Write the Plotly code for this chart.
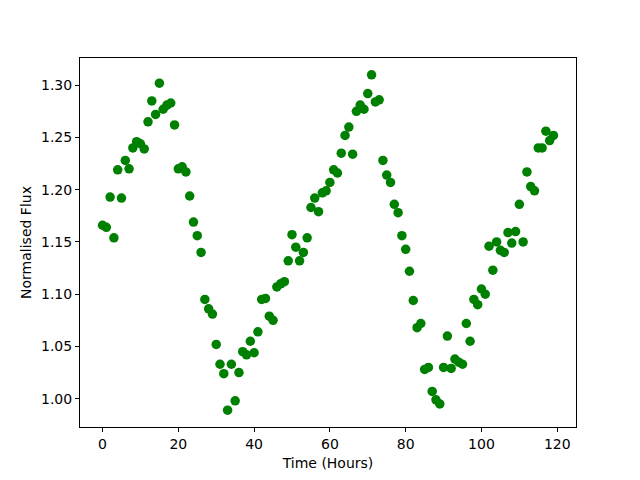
import plotly.graph_objects as go

hours = list(range(120))
flux = [
    1.166, 1.164, 1.193, 1.154, 1.219, 1.192, 1.228, 1.220, 1.240, 1.246,
    1.244, 1.239, 1.265, 1.285, 1.272, 1.302, 1.277, 1.281, 1.283, 1.262,
    1.220, 1.222, 1.217, 1.194, 1.169, 1.156, 1.140, 1.095, 1.086, 1.081,
    1.052, 1.033, 1.024, 0.989, 1.033, 0.998, 1.025, 1.045, 1.042, 1.055,
    1.044, 1.064, 1.095, 1.096, 1.079, 1.075, 1.107, 1.110, 1.112, 1.132,
    1.157, 1.145, 1.132, 1.140, 1.154, 1.183, 1.192, 1.179, 1.197, 1.199,
    1.207, 1.219, 1.216, 1.235, 1.252, 1.260, 1.234, 1.275, 1.281, 1.277,
    1.292, 1.310, 1.284, 1.286, 1.228, 1.214, 1.207, 1.186, 1.178, 1.156,
    1.143, 1.122, 1.094, 1.068, 1.072, 1.028, 1.030, 1.007, 0.999, 0.995,
    1.030, 1.060, 1.029, 1.038, 1.035, 1.033, 1.072, 1.055, 1.095, 1.090,
    1.105, 1.100, 1.146, 1.123, 1.150, 1.142, 1.140, 1.159, 1.149, 1.160,
    1.186, 1.150, 1.217, 1.203, 1.199, 1.240, 1.240, 1.256, 1.247, 1.252,
]
x_ticks = [0, 20, 40, 60, 80, 100, 120]
y_ticks = [1.00, 1.05, 1.10, 1.15, 1.20, 1.25, 1.30]

fig = go.Figure(go.Scatter(
    x=hours, y=flux, mode="markers",
    marker=dict(color="#008000", size=9.5, line=dict(width=0)),
    showlegend=False,
))

xmin, xmax = min(hours), max(hours)
ymin, ymax = min(flux), max(flux)
xpad = (xmax - xmin) * 0.05
ypad = (ymax - ymin) * 0.05

axis_common = dict(
    showline=True, linecolor="black", linewidth=1, mirror=True,
    ticks="outside", ticklen=4, tickwidth=1, tickcolor="black",
    showgrid=False, zeroline=False, automargin=False,
    tickfont=dict(family="DejaVu Sans", size=14, color="black"),
)

# page body has an 8px margin, so the figure is sized/offset to compensate
fig.update_layout(
    width=632, height=472,
    margin=dict(l=72, r=64, t=50, b=53),
    paper_bgcolor="white", plot_bgcolor="white",
    font=dict(family="DejaVu Sans", size=14, color="black"),
    xaxis=dict(range=[xmin - xpad, xmax + xpad], tickvals=x_ticks,
               title=dict(text="Time (Hours)", standoff=7,
                          font=dict(family="DejaVu Sans", size=14)),
               **axis_common),
    yaxis=dict(range=[ymin - ypad, ymax + ypad], tickvals=y_ticks,
               tickformat=".2f",
               title=dict(text="Normalised Flux", standoff=6,
                          font=dict(family="DejaVu Sans", size=14)),
               **axis_common),
)

fig.write_html("out.html")
